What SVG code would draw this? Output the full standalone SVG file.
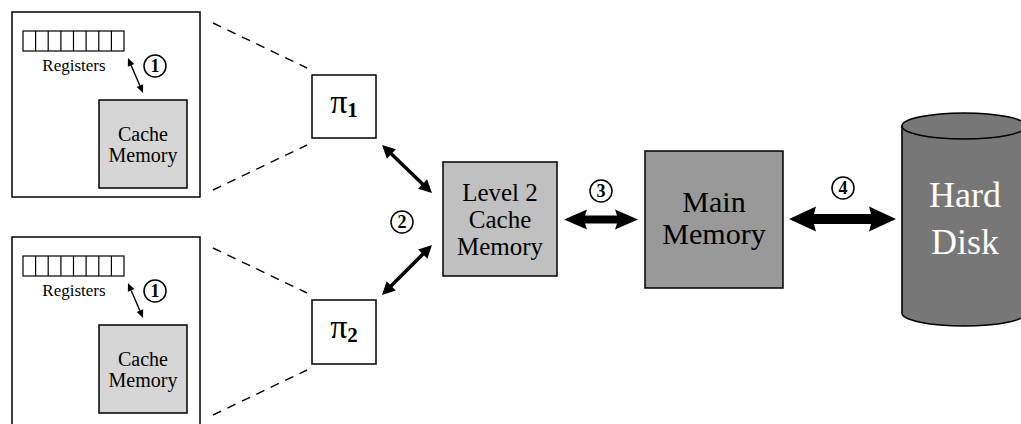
<svg xmlns="http://www.w3.org/2000/svg" width="1021" height="424" viewBox="0 0 1021 424">
<style>
text{font-family:"Liberation Serif","Times New Roman",serif;fill:#000}
.box{stroke:#000;stroke-width:1.5}
.dash{stroke:#000;stroke-width:1.4;stroke-dasharray:9 7;fill:none}
.num{font-weight:bold;font-size:18px;text-anchor:middle;font-family:"Liberation Serif",serif}
.circ{fill:#fff;stroke:#000;stroke-width:1.5}
.c{text-anchor:middle}
.reg{fill:#fff;stroke:#000;stroke-width:1.2}
</style>
<defs>
<marker id="hs" markerUnits="userSpaceOnUse" markerWidth="10" markerHeight="8" refX="0" refY="0" viewBox="0 -4 10 8" orient="auto-start-reverse" overflow="visible"><path d="M0,-3.5 L8,0 L0,3.5 z" fill="#000"/></marker>
<marker id="hm" markerUnits="userSpaceOnUse" markerWidth="14" markerHeight="14" refX="0" refY="0" viewBox="0 -7 14 14" orient="auto-start-reverse" overflow="visible"><path d="M-1,-6.5 L12,0 L-1,6.5 z" fill="#000"/></marker>
</defs>
<g id="cpu1">
<rect x="12" y="12" width="188" height="185" fill="#fff" class="box"/>
<rect x="23" y="31" width="101" height="20" class="reg"/>
<path d="M35.6,31V51M48.2,31V51M60.9,31V51M73.5,31V51M86.1,31V51M98.8,31V51M111.4,31V51" stroke="#000" stroke-width="1.2"/>
<text x="74" y="71" class="c" font-size="17">Registers</text>
<rect x="99" y="100" width="88" height="88" fill="#d6d6d6" class="box"/>
<text x="143" y="141" class="c" font-size="20">Cache</text>
<text x="143" y="162" class="c" font-size="20">Memory</text>
<circle cx="155" cy="66" r="11" class="circ"/>
<text x="155" y="72" class="num">1</text>
</g>
<g id="cpu2">
<rect x="12" y="237" width="188" height="200" fill="#fff" class="box"/>
<rect x="23" y="256" width="101" height="20" class="reg"/>
<path d="M35.6,256V276M48.2,256V276M60.9,256V276M73.5,256V276M86.1,256V276M98.8,256V276M111.4,256V276" stroke="#000" stroke-width="1.2"/>
<text x="74" y="296" class="c" font-size="17">Registers</text>
<rect x="99" y="325" width="88" height="88" fill="#d6d6d6" class="box"/>
<text x="143" y="366" class="c" font-size="20">Cache</text>
<text x="143" y="387" class="c" font-size="20">Memory</text>
<circle cx="155" cy="291" r="11" class="circ"/>
<text x="155" y="297" class="num">1</text>
</g>
<g id="pi1">
<rect x="312" y="75" width="64" height="63" fill="#fff" class="box"/>
<text x="344" y="113" class="c"><tspan font-size="34">π</tspan><tspan font-size="21" font-weight="bold" dy="4">1</tspan></text>
</g>
<g id="pi2">
<rect x="312" y="300" width="64" height="64" fill="#fff" class="box"/>
<text x="344" y="338" class="c"><tspan font-size="34">π</tspan><tspan font-size="21" font-weight="bold" dy="4">2</tspan></text>
</g>
<g id="l2cache">
<rect x="443" y="162" width="114" height="114" fill="#c0c0c0" class="box"/>
<text x="500" y="201" class="c" font-size="25">Level 2</text>
<text x="500" y="228" class="c" font-size="25">Cache</text>
<text x="500" y="255" class="c" font-size="25">Memory</text>
</g>
<g id="mainmem">
<rect x="645" y="151" width="138" height="137" fill="#999" class="box"/>
<text x="714" y="212" class="c" font-size="30">Main</text>
<text x="714" y="244" class="c" font-size="30">Memory</text>
</g>
<g id="harddisk">
<path d="M902,126 V313 A62,13 0 0 0 1026,313 V126" fill="#777" stroke="#000" stroke-width="1.6"/>
<ellipse cx="964" cy="126" rx="62" ry="13" fill="#777" stroke="#000" stroke-width="1.6"/>
<text x="965" y="207" class="c" font-size="36" style="fill:#fff">Hard</text>
<text x="965" y="254" class="c" font-size="36" style="fill:#fff">Disk</text>
</g>
<g id="connectors">
<line x1="213" y1="23" x2="307" y2="68" class="dash"/>
<line x1="213" y1="190" x2="307" y2="145" class="dash"/>
<line x1="213" y1="248" x2="307" y2="293" class="dash"/>
<line x1="213" y1="415" x2="307" y2="370" class="dash"/>
<line x1="131.1" y1="65.3" x2="139.9" y2="85.7" stroke="#000" stroke-width="1.4" marker-start="url(#hs)" marker-end="url(#hs)"/>
<line x1="131.1" y1="290.3" x2="139.9" y2="310.7" stroke="#000" stroke-width="1.4" marker-start="url(#hs)" marker-end="url(#hs)"/>
<line x1="390.7" y1="153.3" x2="423.3" y2="184.7" stroke="#000" stroke-width="3.5" marker-start="url(#hm)" marker-end="url(#hm)"/>
<line x1="423.5" y1="253.5" x2="390.5" y2="286.5" stroke="#000" stroke-width="3.5" marker-start="url(#hm)" marker-end="url(#hm)"/>
<polygon points="564,219.5 587,209.5 585,215.5 617,215.5 615,209.5 638,219.5 615,229.5 617,223.5 585,223.5 587,229.5" fill="#000"/>
<polygon points="789,219 816,206.5 814,214 871,214 869,206.5 896,219 869,231.5 871,224 814,224 816,231.5" fill="#000"/>
<circle cx="402" cy="222" r="11" class="circ"/>
<text x="402" y="228" class="num">2</text>
<circle cx="601" cy="191" r="11" class="circ"/>
<text x="601" y="197" class="num">3</text>
<circle cx="843" cy="188" r="11" class="circ"/>
<text x="843" y="194" class="num">4</text>
</g>
</svg>
